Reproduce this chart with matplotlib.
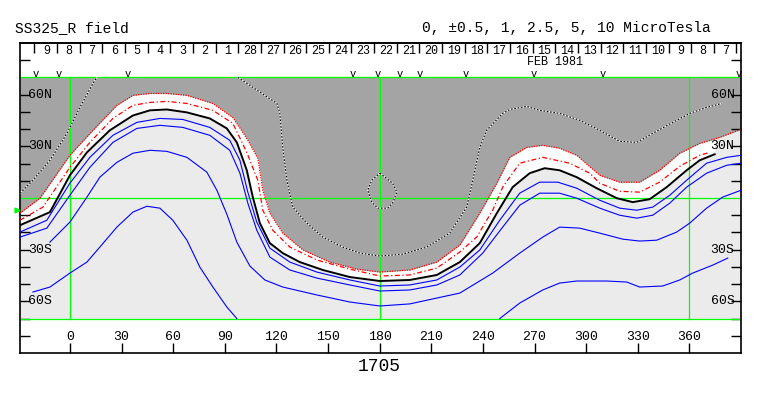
"""Source surface radial field map, Carrington rotation 1705."""

import matplotlib
matplotlib.use("Agg")
import matplotlib.pyplot as plt
import matplotlib.transforms as mtransforms

FONT = "Liberation Mono"
DARK = "#a4a4a4"
LIGHT = "#ebebeb"
GREEN = "#00ff00"

# Contours: Carrington longitude (deg), latitude (deg)
zero_lon = [-29.0, -11.6, 0.0, 9.9, 23.2, 36.6, 46.5, 56.3, 68.0, 81.3, 91.2, 97.0,
            102.8, 106.3, 110.4, 116.2, 123.7, 133.6, 147.0, 162.7, 180.1, 197.5,
            213.2, 226.6, 238.2, 248.1, 257.3, 267.2, 275.9, 284.6, 294.5, 306.1,
            317.8, 327.1, 336.9, 346.8, 358.4, 366.0, 374.7]
zero_lat = [-15.8, -8.2, 13.2, 26.5, 39.3, 47.9, 50.9, 51.4, 49.7, 46.2, 40.4, 32.3,
            16.1, 0.5, -14.6, -26.2, -32.0, -37.2, -41.8, -45.9, -48.2, -47.6,
            -44.7, -37.2, -26.2, -8.8, 6.3, 14.4, 17.3, 16.1, 12.1, 5.7,
            -0.1, -2.4, -0.7, 6.3, 16.1, 21.9, 25.4]

neg1_lon = [-29.0, -17.4, 0.0, 13.4, 27.3, 36.6, 46.5, 56.3, 68.0, 83.1, 94.7, 102.8,
            109.2, 112.1, 116.2, 123.7, 135.4, 151.0, 166.7, 180.1, 197.5, 213.2,
            226.6, 238.2, 248.1, 255.6, 265.5, 274.8, 284.6, 294.5, 307.9, 319.5,
            331.1, 342.7, 354.4, 366.0, 377.6, 390.0]
neg1_lat = [-8.8, -0.1, 24.8, 39.3, 53.8, 59.6, 60.7, 60.7, 59.6, 54.9, 46.7, 34.6,
            23.1, 4.5, -8.8, -20.4, -30.2, -37.2, -41.3, -43.0, -41.8, -37.2,
            -27.3, -8.8, 8.6, 23.6, 29.4, 30.6, 28.9, 24.8, 13.2, 9.2,
            9.2, 16.1, 26.0, 31.7, 35.2, 39.9]

neg05_lon = [-29.0, -15.7, 0.0, 11.6, 25.0, 36.6, 46.5, 56.3, 68.0, 83.1, 94.7, 102.8,
             109.2, 112.1, 117.9, 127.8, 143.5, 162.7, 180.1, 197.5, 213.2, 226.6,
             236.4, 245.7, 251.5, 261.4, 274.8, 290.5, 302.1, 307.9, 319.5, 331.1,
             342.7, 354.4, 366.0, 371.8]
neg05_lat = [-12.9, -5.3, 17.8, 32.3, 46.2, 53.8, 55.5, 56.1, 54.9, 50.9, 43.3, 26.5,
             10.3, -7.1, -18.7, -28.5, -36.0, -41.3, -45.3, -44.7, -40.7, -31.4,
             -22.7, -7.1, 6.3, 20.2, 23.6, 20.2, 14.4, 8.6, 3.9, 3.4,
             9.2, 18.4, 24.8, 26.5]

pos05_lon = [-29.0, -13.4, 0.0, 11.6, 25.0, 38.9, 52.3, 65.6, 81.3, 92.9, 98.8, 103.4,
             108.6, 116.2, 127.8, 143.5, 162.7, 180.1, 197.5, 213.2, 226.6, 238.2,
             249.8, 261.4, 273.0, 283.5, 294.5, 307.9, 319.5, 329.4, 338.7, 348.6,
             358.4, 370.0, 381.7, 390.0]
pos05_lat = [-19.8, -12.9, 8.6, 23.6, 36.4, 43.9, 46.2, 45.6, 41.0, 33.5, 21.9, 3.4,
             -14.0, -29.1, -37.2, -43.0, -47.6, -51.1, -50.5, -47.6, -40.1, -30.2,
             -12.9, 2.8, 9.2, 9.2, 5.7, -1.3, -5.9, -7.1, -5.3, 1.6,
             10.3, 20.2, 23.6, 24.8]

pos1_lon = [-29.0, -13.4, 0.0, 11.6, 25.0, 38.9, 52.3, 65.6, 81.3, 92.9, 98.8, 103.4,
            108.6, 116.2, 127.8, 143.5, 162.7, 180.1, 197.5, 213.2, 226.6, 239.9,
            251.5, 261.4, 273.0, 284.6, 294.5, 307.9, 319.5, 329.4, 338.7, 348.6,
            358.4, 370.0, 381.7, 390.0]
pos1_lat = [-22.7, -17.5, 1.6, 17.8, 32.3, 40.4, 42.2, 41.0, 36.4, 27.7, 14.4, -3.0,
            -18.7, -34.3, -41.8, -46.5, -50.5, -54.0, -53.4, -50.5, -44.7, -32.0,
            -16.9, -4.2, 2.8, 2.8, -0.1, -5.9, -10.0, -11.7, -10.0, -3.0,
            6.3, 14.4, 19.0, 20.2]

pos25_lon = [-11.6, 0.0, 9.9, 17.4, 27.3, 36.6, 46.5, 56.3, 68.0, 79.6, 85.4, 91.2,
             97.0, 104.6, 113.3, 123.7, 143.5, 162.7, 180.1, 197.5, 213.2, 226.6,
             245.7, 261.4, 274.8, 284.6, 296.3, 307.9, 321.3, 331.1, 341.0, 352.6,
             360.2, 370.0, 379.3, 390.0]
pos25_lat = [-25.6, -14.0, 0.5, 12.1, 20.7, 26.0, 27.7, 27.1, 23.6, 15.0, 4.5, -9.4,
             -25.6, -39.5, -47.6, -51.7, -56.3, -60.4, -62.7, -61.5, -58.1, -55.2,
             -43.6, -32.0, -22.7, -16.9, -17.5, -20.4, -23.9, -25.0, -24.5, -19.8,
             -14.6, -5.9, 0.5, 4.5]

pos5a_lon = [-21.5, -11.6, 0.0, 9.9, 17.4, 27.3, 36.6, 44.7, 52.3, 59.8, 68.0, 75.5,
             83.1, 91.2, 97.0]
pos5a_lat = [-54.6, -51.7, -43.6, -37.2, -28.5, -16.9, -8.2, -4.8, -5.9, -12.9, -24.5,
             -40.1, -51.7, -63.3, -70.0]
pos5b_lon = [249.8, 261.4, 274.8, 284.6, 294.5, 311.9, 323.6, 331.1, 344.5, 354.4,
             361.9, 373.5, 382.3]
pos5b_lat = [-70.0, -61.0, -53.4, -49.4, -48.2, -48.2, -48.8, -51.7, -51.1, -47.6,
             -43.6, -39.0, -34.9]

neg25a_lon = [-29.0, -21.5, -11.6, -1.7, 5.8, 13.4, 15.7]
neg25a_lat = [2.8, 10.3, 21.9, 37.5, 52.6, 66.5, 70.0]
neg25b_lon = [97.6, 104.6, 120.3, 122.0, 123.7, 126.1, 129.5, 137.7, 147.0, 158.6,
              168.5, 180.1, 193.4, 207.4, 220.7, 230.6, 234.1, 238.2, 242.2, 251.5,
              255.6, 265.5, 273.0, 284.6, 296.3, 307.9, 319.5, 329.4, 338.7, 350.3,
              360.2, 370.0, 378.8]
neg25b_lat = [70.0, 65.4, 54.9, 49.1, 29.4, 10.3, -5.3, -14.6, -22.7, -28.5,
              -32.0, -33.7, -32.6, -28.5, -20.4, -5.3, 10.3, 29.4, 39.3, 49.1,
              51.4, 53.2, 50.9, 49.1, 45.1, 39.3, 32.9, 32.3, 37.5, 43.9,
              49.1, 52.6, 54.9]

neg5_lon = [180.1, 187.5, 190.0, 187.5, 184.7, 178.9, 175.4, 173.1, 175.4, 180.1]
neg5_lat = [14.4, 8.6, 3.4, -3.0, -5.9, -5.9, -2.4, 4.5, 10.3, 14.4]

# Top band: days of the month, observation markers
day_labels = ["9", "8", "7", "6", "5", "4", "3", "2", "1", "28", "27", "26", "25",
              "24", "23", "22", "21", "20", "19", "18", "17", "16", "15", "14",
              "13", "12", "11", "10", "9", "8", "7"]
obs_lon = [-19.7, -6.3, 33.8, 164.5, 179.0, 191.8, 203.4, 230.2, 269.7, 309.8, 388.8]
lat_labels = {60: "60N", 30: "30N", -30: "30S", -60: "60S"}
lon_ticks = list(range(0, 361, 30))

DAY0 = -20.6  # first day boundary
DAY_STEP = 13.16

fig = plt.figure(figsize=(7.63, 3.96), dpi=100)
ax = fig.add_axes([20 / 763, 1 - 353 / 396, 721 / 763, 310 / 396])
ax.set_xlim(-29, 390)
ax.set_ylim(-90, 90)

# polarity shading
ax.axhspan(-70, 70, color=LIGHT, lw=0, zorder=0)
ax.fill_between(zero_lon, zero_lat, 70, color="white", lw=0, zorder=1)
ax.fill_between(neg1_lon, neg1_lat, 70, color=DARK, lw=0, zorder=1.1)

# green grid
for lat in (-70, 0, 70):
    ax.axhline(lat, color=GREEN, lw=0.9, zorder=2)
for lon in (0, 180, 360):
    ax.axvline(lon, ymin=20 / 180, ymax=160 / 180, color=GREEN, lw=0.9, zorder=2)

# positive contours
for lons, lats in [(pos05_lon, pos05_lat), (pos1_lon, pos1_lat), (pos25_lon, pos25_lat),
                   (pos5a_lon, pos5a_lat), (pos5b_lon, pos5b_lat)]:
    ax.plot(lons, lats, color="blue", lw=0.8, zorder=3)

# negative contours
ax.plot(neg05_lon, neg05_lat, color="red", lw=0.9, ls=(0, (4, 2, 1, 2)), zorder=3)
ax.plot(neg1_lon, neg1_lat, color="red", lw=0.9, ls=(0, (1, 1)), zorder=3)
for lons, lats in [(neg25a_lon, neg25a_lat), (neg25b_lon, neg25b_lat), (neg5_lon, neg5_lat)]:
    ax.plot(lons, lats, color="white", lw=0.8, zorder=3)
    ax.plot(lons, lats, color="black", lw=0.8, ls=(0, (1.5, 1.5)), zorder=3.1)

# neutral line
ax.plot(zero_lon, zero_lat, color="black", lw=1.4, zorder=3.2)

# ticks
ax.set_yticks([-80, -70, -60, -50, -40, -30, -20, -10, 10, 20, 30, 40, 50, 60, 80])
ax.set_xticks(lon_ticks)
ax.tick_params(axis="y", direction="in", length=7, left=True, right=True,
               labelleft=False, width=1)
ax.tick_params(axis="x", direction="in", length=7, bottom=True, top=False,
               labelbottom=False, width=1)
day_ticks = [DAY0 + DAY_STEP * k for k in range(len(day_labels) + 1)]
top = ax.secondary_xaxis("top")
top.set_xticks(day_ticks)
top.tick_params(direction="in", length=7, labeltop=False, width=1)
top.spines["top"].set_linewidth(1.2)
for s in ax.spines.values():
    s.set_linewidth(1.2)

# labels
trans = mtransforms.blended_transform_factory(ax.transAxes, ax.transData)
for lat, txt in lat_labels.items():
    ax.text(0.011, lat, txt, transform=trans, ha="left", va="center",
            family=FONT, fontsize=9.5, zorder=5)
    ax.text(0.991, lat, txt, transform=trans, ha="right", va="center",
            family=FONT, fontsize=9.5, zorder=5)

for lon in lon_ticks:
    ax.text(lon, -80.7, str(lon), ha="center", va="center", family=FONT, fontsize=9.5)

for k, lab in enumerate(day_labels):
    ax.text(day_ticks[k] + 0.53 * DAY_STEP, 85.6, lab, ha="center", va="center",
            family=FONT, fontsize=8.5)
ax.text(281.9, 79.2, "FEB 1981", ha="center", va="center", family=FONT, fontsize=8.5)
for lon in obs_lon:
    ax.text(lon, 70.4, "v", ha="center", va="baseline", family=FONT, fontsize=7.5)

# sub-earth latitude marker
ax.plot([-0.004], [-7], transform=trans, marker=">", color=GREEN, ms=3.5,
        clip_on=False, zorder=5)

ax.text(180, -97.6, "1705", ha="center", va="center", family=FONT, fontsize=13)
fig.text(15 / 763, 1 - 28 / 396, "SS325_R field", ha="left", va="center",
         family=FONT, fontsize=10.5)
fig.text(711 / 763, 1 - 28 / 396, "0, \u00b10.5, 1, 2.5, 5, 10 MicroTesla",
         ha="right", va="center", family=FONT, fontsize=10.5)

fig.savefig("out.png", dpi=100, facecolor="white")
plt.close(fig)
